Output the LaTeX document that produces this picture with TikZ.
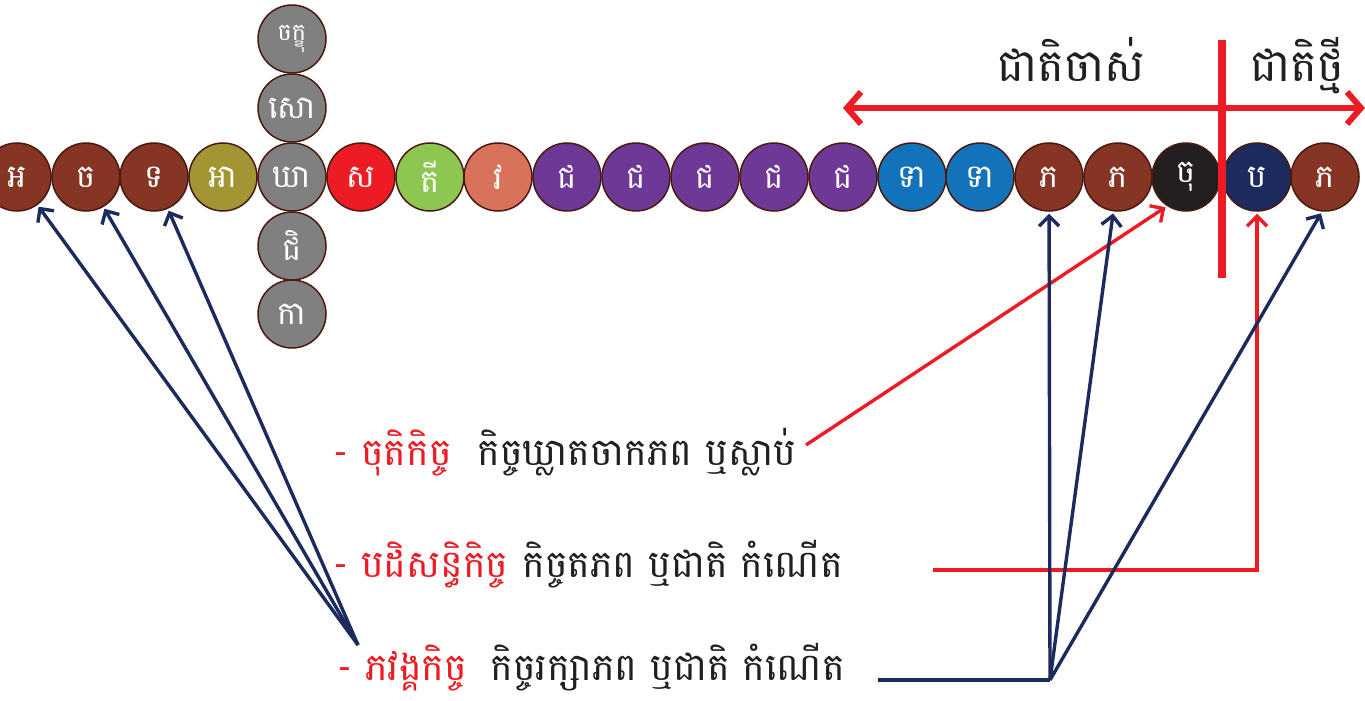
\documentclass[tikz,border=0pt]{standalone}
\usepackage{fontspec}
\usepackage{tikz}
\usetikzlibrary{arrows.meta}
\newfontfamily\khmer[Script=Khmer]{Battambang}
\definecolor{brn}{RGB}{134,52,36}
\definecolor{olv}{RGB}{162,150,52}
\definecolor{gry}{RGB}{128,128,128}
\definecolor{rdd}{RGB}{237,28,36}
\definecolor{grn}{RGB}{141,198,80}
\definecolor{slm}{RGB}{217,114,90}
\definecolor{prp}{RGB}{110,56,150}
\definecolor{blu}{RGB}{18,114,186}
\definecolor{blk}{RGB}{35,31,32}
\definecolor{nvy}{RGB}{28,42,94}
\definecolor{edg}{RGB}{74,26,16}
\tikzset{cir/.style={circle,draw=edg,line width=0.75pt,minimum size=34pt,inner sep=0pt,text=white,font=\khmer\fontsize{16}{16}\selectfont},
nv/.style={draw=nvy,line width=1.7pt,shorten >=1pt,-{Straight Barb[length=5pt,width=10pt]}},
rd/.style={draw=rdd,line width=1.7pt,shorten >=1pt,-{Straight Barb[length=5pt,width=10pt]}},
lbl/.style={anchor=base west,inner sep=0pt,font=\khmer\fontsize{19}{19}\selectfont},
hd/.style={anchor=base,inner sep=0pt,text=blk,font=\khmer\fontsize{22.5}{22.5}\selectfont}}
\begin{document}
\begin{tikzpicture}[x=0.5pt,y=-0.5pt]
\useasboundingbox (0,0) rectangle (1365,701);
%row of circles
\node [cir,fill=brn] (v1) at (17,177){អ}; \node [cir,fill=brn] (v2) at (86,177){ច}; \node [cir,fill=brn] (v3) at (154,177){ទ}; \node [cir,fill=olv] (v4) at (223,177){អា};
\node [cir,fill=gry] (v5) at (292,177){ឃា}; \node [cir,fill=rdd] (v6) at (361,177){ស}; \node [cir,fill=grn] (v7) at (430,177){តី}; \node [cir,fill=slm] (v8) at (498,177){វ};
\node [cir,fill=prp] (v9) at (567,177){ជ}; \node [cir,fill=prp] (v10) at (636,177){ជ}; \node [cir,fill=prp] (v11) at (705,177){ជ}; \node [cir,fill=prp] (v12) at (774,177){ជ}; \node [cir,fill=prp] (v13) at (843,177){ជ};
\node [cir,fill=blu] (v14) at (912,177){ទា}; \node [cir,fill=blu] (v15) at (980,177){ទា}; \node [cir,fill=brn] (v16) at (1049,177){ភ}; \node [cir,fill=brn] (v17) at (1118,177){ភ};
\node [cir,fill=blk] (v18) at (1186,177){ចុ}; \node [cir,fill=nvy] (v19) at (1257,177){ប}; \node [cir,fill=brn] (v20) at (1325,177){ភ};

%column
\node [cir,fill=gry,font=\khmer\fontsize{12}{12}\selectfont] (u1) at (292,39){ចក្ខុ}; \node [cir,fill=gry] (u2) at (292,108){សោ}; \node [cir,fill=gry] (u3) at (292,246){ជិ}; \node [cir,fill=gry] (u4) at (292,314){កា};

%old and new life
\node [hd] (h1) at (1071,82){ជាតិចាស់}; \node [hd] (h2) at (1297,82){ជាតិថ្មី};
\coordinate (s1) at (843,108); \coordinate (s2) at (1365,108); \coordinate (w1) at (1222,40); \coordinate (w2) at (1222,278);
\draw [rdd,line width=3pt,{Straight Barb[length=7pt,width=16pt]}-{Straight Barb[length=7pt,width=16pt]}] (s1)--(s2);
\draw [rdd,line width=4pt] (w1)--(w2);

%labels
\node [lbl,text=rdd] (k1) at (333,465){- ចុតិកិច្ច}; \node [lbl,text=blk] (t1) at (477,465){កិច្ចឃ្លាតចាកភព ឬស្លាប់};
\node [lbl,text=rdd] (k2) at (333,577){- បដិសន្ធិកិច្ច}; \node [lbl,text=blk] (t2) at (522,577){កិច្ចតភព ឬជាតិ កំណើត};
\node [lbl,text=rdd] (k3) at (337,680){- ភវង្គកិច្ច}; \node [lbl,text=blk] (t3) at (490,680){កិច្ចរក្សាភព ឬជាតិ កំណើត};

%arrows
\coordinate (r1) at (806,445); \coordinate (r2) at (933,570); \coordinate (n1) at (878,680); \coordinate (p) at (358,645); \coordinate (q) at (1050,680);
\draw [rd] (r1)--(v18.237); \draw [rd] (r2)-|(v19.south);
\draw [nv] (p)--(v1); \draw [nv] (p)--(v2); \draw [nv] (p)--(v3);
\draw [draw=nvy,line width=1.7pt] (n1)--(q); \draw [nv] (q)--(v16); \draw [nv] (q)--(v17); \draw [nv] (q)--(v20.265);

\end{tikzpicture}
\end{document}
